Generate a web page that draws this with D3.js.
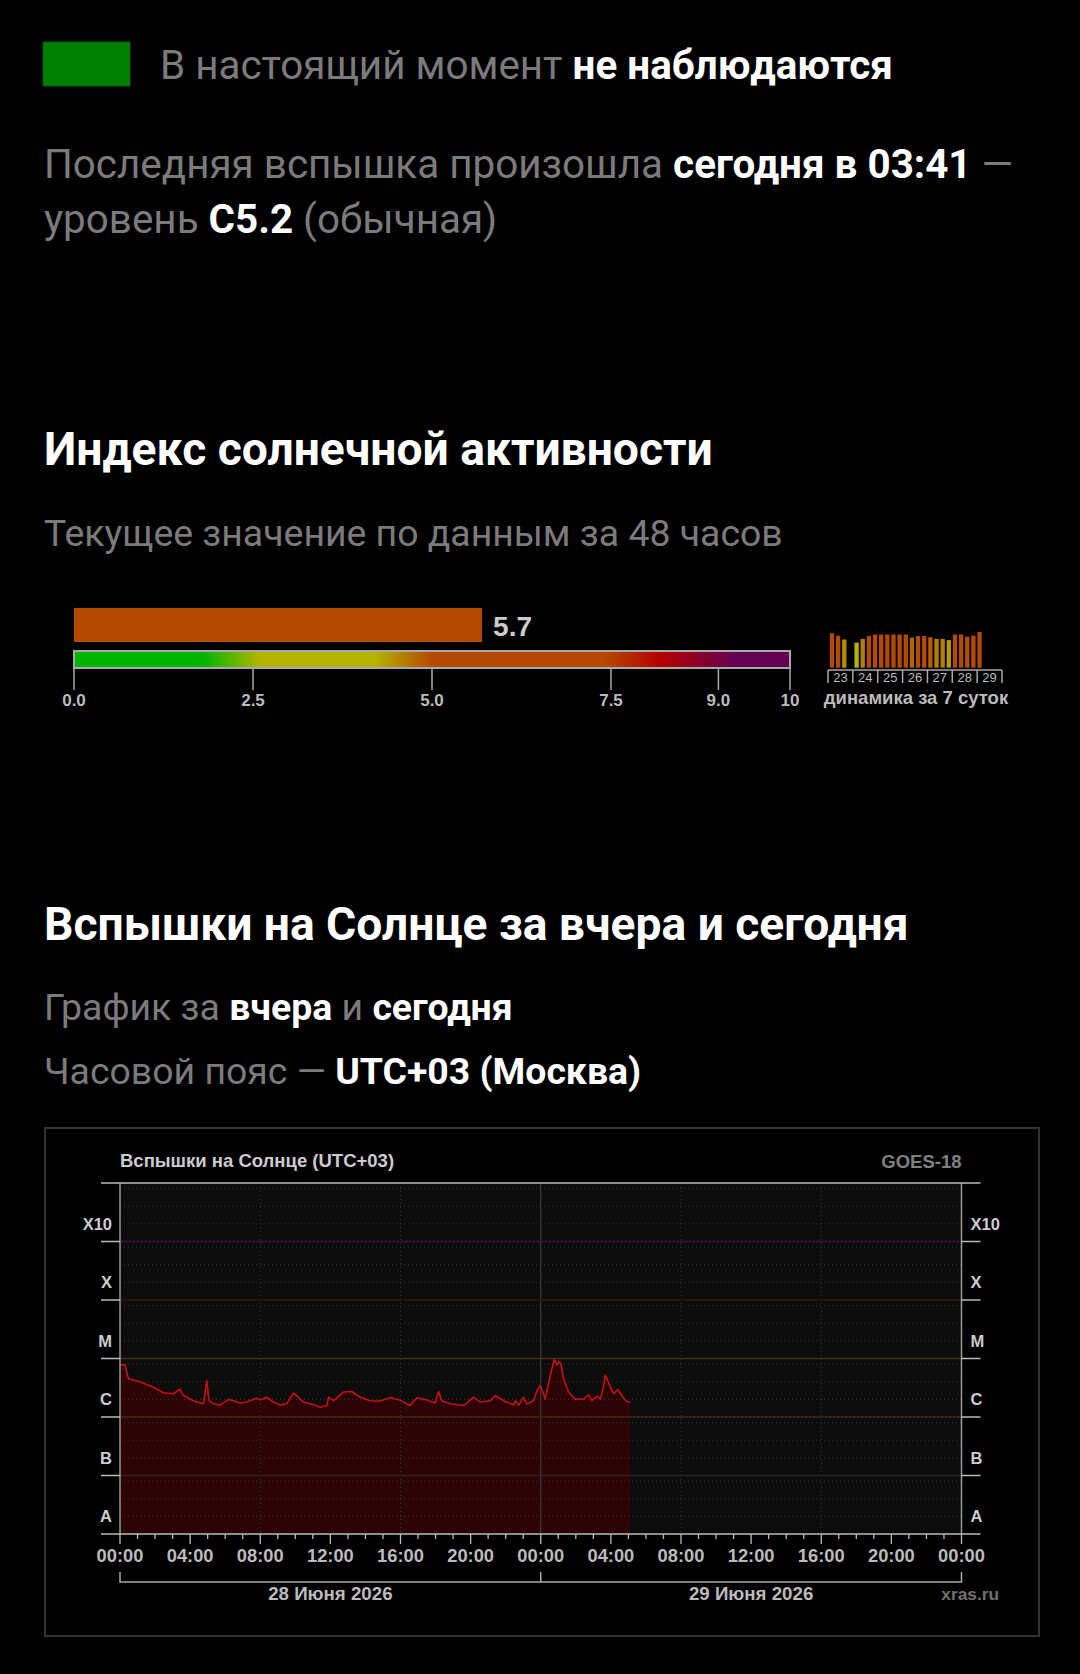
<!DOCTYPE html>
<html>
<head>
<meta charset="utf-8">
<script src="https://cdn.jsdelivr.net/npm/d3@7"></script>
<style>
  html, body { margin: 0; padding: 0; background: #000; }
  svg { display: block; }
</style>
</head>
<body>
<svg id="page" width="1080" height="1674"></svg>
<script>
// ---- data ----
const indexValue = 5.7;
const gaugeTicks = [0, 2.5, 5, 7.5, 9, 10];
const gaugeTickLabels = ["0.0", "2.5", "5.0", "7.5", "9.0", "10"];
const gaugeStops = [0, 1.8, 2.6, 4.2, 5.0, 7.4, 8.2, 9.2, 10];
const gaugeColors = ["#00b400", "#00b400", "#b4b400", "#b4b400", "#b44a00", "#b44a00", "#b40000", "#660050", "#660050"];

const weekDays = ["23", "24", "25", "26", "27", "28", "29"];
// 4 values per day (every 6 h), null = no data
const weekValues = [5.5, 5.1, 4.5, null, 4.0, 4.6, 5.05, 5.3, 5.3, 5.3, 5.3, 5.3,
                    5.3, 4.8, 5.05, 5.05, 4.85, 4.6, 4.6, 4.4, 5.3, 5.3, 4.95, 5.1, 5.7];

const levelLabels = ["A", "B", "C", "M", "X", "X10"];
const levelBounds = [1e-8, 1e-7, 1e-6, 1e-5, 1e-4, 1e-3, 1e-2];
const levelLineColors = [null, "#302626", "#402a14", "#3c3216", "#361414", "#3a1440", null];
const timeLabels = ["00:00", "04:00", "08:00", "12:00", "16:00", "20:00", "00:00",
                    "04:00", "08:00", "12:00", "16:00", "20:00", "00:00"];
const dayLabels = ["28 Июня 2026", "29 Июня 2026"];

// GOES X-ray flux, hours since 28.06 00:00 (UTC+03), W/m²
const fluxHours = [0, 0.10, 0.29, 0.48, 1.14, 1.90, 2.47, 3.04, 3.42, 3.61, 4.18, 4.76, 4.95, 5.08,
  5.33, 5.71, 6.18, 6.47, 6.85, 7.23, 7.80, 7.99, 8.37, 8.75, 9.13, 9.51, 9.89, 10.08, 10.46,
  11.03, 11.42, 11.80, 11.89, 12.18, 12.75, 13.22, 13.70, 14.27, 14.84, 15.41, 15.98, 16.55,
  16.93, 17.50, 17.98, 18.17, 18.36, 18.84, 19.60, 20.17, 20.55, 21.12, 21.40, 21.88, 22.45,
  22.55, 22.74, 23.02, 23.21, 23.59, 23.78, 23.97, 24.26, 24.54, 24.77, 24.93, 25.04, 25.15,
  25.30, 25.59, 25.97, 26.45, 26.73, 26.92, 27.21, 27.40, 27.59, 27.68, 27.97, 28.16, 28.39,
  28.73, 28.92, 29.11];
const fluxValues = [7.6e-6, 7.9e-6, 7.7e-6, 4.5e-6, 4.0e-6, 3.25e-6, 2.6e-6, 2.5e-6, 3.0e-6, 2.35e-6,
  1.9e-6, 1.68e-6, 4.2e-6, 1.9e-6, 1.68e-6, 1.6e-6, 2.0e-6, 1.9e-6, 1.74e-6, 1.8e-6, 2.1e-6,
  1.96e-6, 2.18e-6, 1.8e-6, 1.6e-6, 1.68e-6, 2.56e-6, 2.33e-6, 1.8e-6, 1.63e-6, 1.47e-6, 1.57e-6,
  2.18e-6, 1.9e-6, 2.67e-6, 2.73e-6, 2.18e-6, 1.9e-6, 1.87e-6, 2.15e-6, 1.94e-6, 1.57e-6, 2.13e-6,
  1.96e-6, 1.74e-6, 2.73e-6, 1.9e-6, 1.68e-6, 1.57e-6, 2.18e-6, 1.8e-6, 1.9e-6, 2.33e-6, 1.9e-6,
  1.6e-6, 1.89e-6, 1.6e-6, 2.18e-6, 1.68e-6, 1.9e-6, 2.84e-6, 3.47e-6, 2.04e-6, 5.17e-6, 9.7e-6,
  7.7e-6, 8.8e-6, 8.2e-6, 4.5e-6, 2.67e-6, 2.0e-6, 2.04e-6, 2.4e-6, 1.9e-6, 2.28e-6, 2.04e-6,
  3.47e-6, 5.2e-6, 3.25e-6, 2.5e-6, 2.96e-6, 2.1e-6, 1.84e-6, 1.8e-6];

const svg = d3.select("#page");
const GRAY = "#7b7b7b";

// ---- text blocks ----
function richLine(x, y, size, parts) {
  const t = svg.append("text").attr("x", x).attr("y", y)
    .attr("font-family", "Roboto, sans-serif").attr("font-size", size);
  parts.forEach(p => t.append("tspan").text(p[0])
    .attr("fill", p[1] ? "#fff" : GRAY).attr("font-weight", p[1] ? 700 : 400));
}

svg.append("rect").attr("x", 43).attr("y", 42).attr("width", 87).attr("height", 44)
  .attr("fill", "#008000").attr("stroke", "#0a5a0a").attr("stroke-width", 1);
richLine(160, 79, 40.4, [["В настоящий момент ", false], ["не наблюдаются", true]]);
richLine(44, 178, 40.4, [["Последняя вспышка произошла ", false], ["сегодня в 03:41", true], [" —", false]]);
richLine(44, 233, 40.4, [["уровень ", false], ["C5.2", true], [" (обычная)", false]]);

svg.append("text").attr("x", 44).attr("y", 465).attr("fill", "#fff")
  .attr("font-family", "Roboto, sans-serif").attr("font-weight", 700).attr("font-size", 46.2)
  .text("Индекс солнечной активности");
richLine(44, 546, 37.4, [["Текущее значение по данным за 48 часов", false]]);

svg.append("text").attr("x", 44).attr("y", 940).attr("fill", "#fff")
  .attr("font-family", "Roboto, sans-serif").attr("font-weight", 700).attr("font-size", 46.2)
  .text("Вспышки на Солнце за вчера и сегодня");
richLine(44, 1020, 37.4, [["График за ", false], ["вчера", true], [" и ", false], ["сегодня", true]]);
richLine(44, 1084, 37.4, [["Часовой пояс — ", false], ["UTC+03 (Москва)", true]]);

// ---- activity index gauge ----
const gx = d3.scaleLinear().domain([0, 10]).range([74, 790]);
const gColor = d3.scaleLinear().domain(gaugeStops).range(gaugeColors);

const grad = svg.append("defs").append("linearGradient").attr("id", "gaugeGrad");
gaugeStops.forEach((s, i) => grad.append("stop")
  .attr("offset", (s / 10 * 100) + "%").attr("stop-color", gaugeColors[i]));

const gauge = svg.append("g").attr("font-family", "Liberation Sans, Arial, sans-serif")
  .attr("font-weight", 700);
gauge.append("rect").attr("x", gx(0)).attr("y", 608).attr("width", gx(indexValue) - gx(0))
  .attr("height", 34).attr("fill", gColor(indexValue));
gauge.append("text").attr("x", gx(indexValue) + 11).attr("y", 636).attr("fill", "#ccc")
  .attr("font-size", 28).text(indexValue.toFixed(1));
gauge.append("rect").attr("x", gx(0)).attr("y", 651).attr("width", gx(10) - gx(0))
  .attr("height", 17).attr("fill", "url(#gaugeGrad)").attr("stroke", "#aaa").attr("stroke-width", 2);
gauge.selectAll("line.gt").data(gaugeTicks).join("line").attr("class", "gt")
  .attr("x1", d => gx(d)).attr("x2", d => gx(d)).attr("y1", 668).attr("y2", 690)
  .attr("stroke", "#aaa").attr("stroke-width", 1.5);
gauge.selectAll("text.gl").data(gaugeTicks).join("text").attr("class", "gl")
  .attr("x", d => gx(d)).attr("y", 706).attr("text-anchor", "middle")
  .attr("fill", "#bbb").attr("font-size", 17).text((d, i) => gaugeTickLabels[i]);

// mini 7-day chart, 4 slots per day
const mx = d3.scaleBand().domain(d3.range(weekDays.length * 4)).range([828, 1002]).padding(0.3);
const my = d3.scaleLinear().domain([0, 10]).range([667.7, 605]);
const dayW = (1002 - 828) / weekDays.length;
const weekBars = weekValues.map((v, i) => ({ slot: i, v: v })).filter(d => d.v != null);
gauge.selectAll("rect.wk").data(weekBars).join("rect").attr("class", "wk")
  .attr("x", d => mx(d.slot)).attr("y", d => my(d.v))
  .attr("width", mx.bandwidth()).attr("height", d => my(0) - my(d.v))
  .attr("fill", d => gColor(d.v));
gauge.append("line").attr("x1", 828).attr("x2", 1002).attr("y1", 670).attr("y2", 670)
  .attr("stroke", "#aaa").attr("stroke-width", 1.5);
gauge.selectAll("line.wd").data(d3.range(weekDays.length + 1)).join("line").attr("class", "wd")
  .attr("x1", d => 828 + d * dayW).attr("x2", d => 828 + d * dayW).attr("y1", 670).attr("y2", 683)
  .attr("stroke", "#aaa").attr("stroke-width", 1.5);
gauge.selectAll("text.wl").data(weekDays).join("text").attr("class", "wl")
  .attr("x", (d, i) => 828 + (i + 0.5) * dayW).attr("y", 682).attr("text-anchor", "middle")
  .attr("fill", "#bbb").attr("font-size", 13).attr("font-weight", 400).text(d => d);
gauge.append("text").attr("x", 916).attr("y", 704).attr("text-anchor", "middle")
  .attr("fill", "#bbb").attr("font-size", 18.5).text("динамика за 7 суток");

// ---- flares chart ----
const box = svg.append("g").attr("font-family", "Liberation Sans, Arial, sans-serif")
  .attr("font-weight", 700);
box.append("rect").attr("x", 45).attr("y", 1128).attr("width", 994).attr("height", 508)
  .attr("fill", "#000").attr("stroke", "#333").attr("stroke-width", 2);

const x = d3.scaleLinear().domain([0, 48]).range([120, 961.5]);
const y = d3.scaleLog().domain([1e-8, 1e-2]).range([1534, 1183]);

box.append("rect").attr("x", x(0)).attr("y", y(1e-2)).attr("width", x(48) - x(0))
  .attr("height", y(1e-8) - y(1e-2)).attr("fill", "#0c0c0c");

const pts = fluxHours.map((h, i) => [h, fluxValues[i]]);
box.append("path").datum(pts).attr("fill", "#2c0405")
  .attr("d", d3.area().x(d => x(d[0])).y0(y(1e-8)).y1(d => y(d[1])));

// dotted grid
const minor = [];
levelBounds.slice(0, -1).forEach(b => [2, 4, 8].forEach(m => minor.push(b * m)));
box.selectAll("line.hg").data(minor).join("line").attr("class", "hg")
  .attr("x1", x(0)).attr("x2", x(48)).attr("y1", d => y(d)).attr("y2", d => y(d))
  .attr("stroke", "#383838").attr("stroke-dasharray", "1,3");
box.selectAll("line.vg").data([8, 16, 32, 40]).join("line").attr("class", "vg")
  .attr("x1", d => x(d)).attr("x2", d => x(d)).attr("y1", y(1e-2)).attr("y2", y(1e-8))
  .attr("stroke", "#383838").attr("stroke-dasharray", "1,3");
box.append("line").attr("x1", x(24)).attr("x2", x(24)).attr("y1", y(1e-2)).attr("y2", y(1e-8))
  .attr("stroke", "#444");

// class threshold lines
const levelLines = levelBounds.map((b, i) => ({ b: b, c: levelLineColors[i] })).filter(d => d.c);
box.selectAll("line.lv").data(levelLines).join("line").attr("class", "lv")
  .attr("x1", x(0)).attr("x2", x(48)).attr("y1", d => y(d.b)).attr("y2", d => y(d.b))
  .attr("stroke", d => d.c).attr("stroke-width", 1.5);

box.append("path").datum(pts).attr("fill", "none").attr("stroke", "#c81010")
  .attr("stroke-width", 1.6).attr("stroke-linejoin", "round")
  .attr("d", d3.line().x(d => x(d[0])).y(d => y(d[1])));

// side axes
[[x(0), -19, "end", -8], [x(48), 19, "start", 9]].forEach(([ax, ext, anchor, dx]) => {
  box.append("line").attr("x1", ax).attr("x2", ax).attr("y1", y(1e-2)).attr("y2", y(1e-8))
    .attr("stroke", "#999").attr("stroke-width", 1.5);
  box.selectAll(null).data(levelBounds.slice(1, -1)).join("line")
    .attr("x1", ax).attr("x2", ax + ext).attr("y1", d => y(d)).attr("y2", d => y(d))
    .attr("stroke", "#bbb").attr("stroke-width", 1.5);
  box.selectAll(null).data(levelLabels).join("text")
    .attr("x", ax + dx).attr("y", (d, i) => y(levelBounds[i]) - 12).attr("text-anchor", anchor)
    .attr("fill", "#ccc").attr("font-size", 16.5).text(d => d);
});
box.append("line").attr("x1", x(0) - 19).attr("x2", x(48) + 19).attr("y1", y(1e-2)).attr("y2", y(1e-2))
  .attr("stroke", "#bbb").attr("stroke-width", 1.5);
box.append("line").attr("x1", x(0) - 19).attr("x2", x(48) + 19).attr("y1", y(1e-8)).attr("y2", y(1e-8))
  .attr("stroke", "#bbb").attr("stroke-width", 1.5);

// time axis
box.selectAll("line.tk").data(d3.range(0, 49)).join("line").attr("class", "tk")
  .attr("x1", d => x(d)).attr("x2", d => x(d)).attr("y1", y(1e-8))
  .attr("y2", d => y(1e-8) + (d % 4 === 0 ? 10 : 5))
  .attr("stroke", "#bbb").attr("stroke-width", 1.3);
box.selectAll("text.tl").data(timeLabels).join("text").attr("class", "tl")
  .attr("x", (d, i) => x(i * 4)).attr("y", 1562).attr("text-anchor", "middle")
  .attr("fill", "#bbb").attr("font-size", 18.3).text(d => d);

box.append("path").attr("fill", "none").attr("stroke", "#aaa").attr("stroke-width", 1.5)
  .attr("d", `M${x(0)},1572V1582H${x(48)}V1572M${x(24)},1572V1582`);
box.selectAll("text.dl").data(dayLabels).join("text").attr("class", "dl")
  .attr("x", (d, i) => x(i * 24 + 12)).attr("y", 1600).attr("text-anchor", "middle")
  .attr("fill", "#bbb").attr("font-size", 18.7).text(d => d);

box.append("text").attr("x", x(0)).attr("y", 1167).attr("fill", "#ccc").attr("font-size", 18.5)
  .text("Вспышки на Солнце (UTC+03)");
box.append("text").attr("x", x(48)).attr("y", 1168).attr("text-anchor", "end")
  .attr("fill", "#808080").attr("font-size", 18.5).text("GOES-18");
box.append("text").attr("x", 999).attr("y", 1600).attr("text-anchor", "end")
  .attr("fill", "#707070").attr("font-size", 17.3).text("xras.ru");
</script>
</body>
</html>
